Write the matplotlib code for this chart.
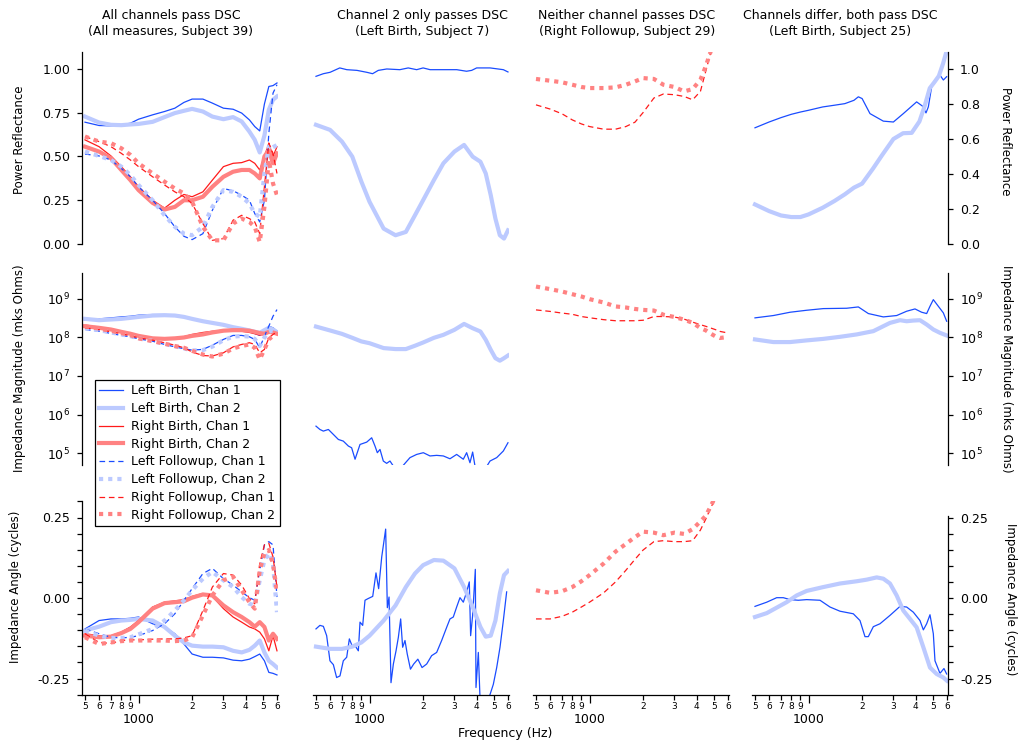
import matplotlib.pyplot as plt
from matplotlib.ticker import (FixedLocator, FixedFormatter, FormatStrFormatter,
                               LogFormatterSciNotation, MultipleLocator, NullLocator)

plt.rcParams['font.family'] = ['DejaVu Sans']
plt.rcParams['axes.unicode_minus'] = False

W, H = 1019, 747

# common frequency grid (Hz)
freq = [500, 600, 700, 800, 900, 1000, 1200, 1400, 1600, 1800, 2000, 2300,
        2600, 3000, 3400, 3800, 4200, 4500, 4800, 5100, 5400, 5700, 6000]

# ---------- column 1: subject 39, all measures ----------
s39_refl_lb1 = [0.696, 0.677, 0.675, 0.681, 0.690, 0.713, 0.738, 0.757, 0.776, 0.809, 0.828, 0.828,
                0.805, 0.776, 0.770, 0.748, 0.709, 0.671, 0.646, 0.800, 0.900, 0.905, 0.920]
s39_refl_lb2 = [0.728, 0.694, 0.681, 0.679, 0.683, 0.686, 0.698, 0.725, 0.748, 0.761, 0.772, 0.757,
                0.728, 0.713, 0.725, 0.700, 0.642, 0.595, 0.523, 0.620, 0.767, 0.824, 0.843]
s39_refl_rb1 = [0.595, 0.556, 0.503, 0.442, 0.384, 0.327, 0.250, 0.205, 0.250, 0.283, 0.270, 0.298,
                0.365, 0.442, 0.461, 0.465, 0.480, 0.461, 0.423, 0.500, 0.576, 0.500, 0.556]
s39_refl_rb2 = [0.556, 0.528, 0.490, 0.423, 0.365, 0.308, 0.235, 0.197, 0.212, 0.250, 0.250, 0.270,
                0.327, 0.384, 0.413, 0.423, 0.423, 0.403, 0.375, 0.500, 0.537, 0.461, 0.518]
s39_refl_lf1 = [0.514, 0.503, 0.480, 0.432, 0.384, 0.327, 0.250, 0.174, 0.098, 0.044, 0.025, 0.059,
                0.193, 0.317, 0.304, 0.279, 0.250, 0.174, 0.126, 0.250, 0.633, 0.862, 0.910]
s39_refl_lf2 = [0.528, 0.503, 0.480, 0.442, 0.394, 0.337, 0.250, 0.164, 0.098, 0.059, 0.050, 0.098,
                0.212, 0.308, 0.298, 0.270, 0.231, 0.174, 0.155, 0.403, 0.556, 0.576, 0.537]
s39_refl_rf1 = [0.614, 0.585, 0.556, 0.518, 0.480, 0.442, 0.384, 0.337, 0.298, 0.270, 0.231, 0.117,
                0.021, 0.031, 0.136, 0.164, 0.145, 0.126, 0.059, 0.327, 0.576, 0.518, 0.403]
s39_refl_rf2 = [0.614, 0.585, 0.576, 0.547, 0.509, 0.461, 0.403, 0.356, 0.317, 0.289, 0.241, 0.098,
                0.021, 0.021, 0.117, 0.145, 0.126, 0.098, 0.011, 0.212, 0.480, 0.346, 0.279]

s39_mag_lb1 = [2.81e8, 3.04e8, 3.23e8, 3.42e8, 3.56e8, 3.79e8, 3.94e8, 3.94e8, 3.87e8, 3.56e8, 3.13e8, 2.64e8,
               2.30e8, 2.05e8, 1.78e8, 1.61e8, 1.46e8, 1.27e8, 1.13e8, 1.46e8, 1.96e8, 1.78e8, 1.46e8]
s39_mag_lb2 = [3.04e8, 2.81e8, 2.93e8, 3.04e8, 3.23e8, 3.42e8, 3.71e8, 3.79e8, 3.71e8, 3.42e8, 3.04e8, 2.64e8,
               2.39e8, 2.13e8, 1.85e8, 1.68e8, 1.52e8, 1.40e8, 1.32e8, 1.55e8, 1.78e8, 1.61e8, 1.37e8]
s39_mag_rb1 = [1.96e8, 1.80e8, 1.60e8, 1.40e8, 1.25e8, 1.10e8, 9.5e7, 9.0e7, 9.5e7, 1.05e8, 1.20e8, 1.35e8,
               1.45e8, 1.55e8, 1.50e8, 1.45e8, 1.35e8, 1.25e8, 1.15e8, 1.20e8, 1.35e8, 1.30e8, 1.20e8]
s39_mag_rb2 = [1.96e8, 1.78e8, 1.61e8, 1.40e8, 1.25e8, 1.10e8, 9.5e7, 9.2e7, 9.5e7, 1.00e8, 1.10e8, 1.20e8,
               1.35e8, 1.50e8, 1.55e8, 1.55e8, 1.50e8, 1.40e8, 1.30e8, 1.25e8, 1.40e8, 1.35e8, 1.25e8]
s39_mag_lf1 = [1.61e8, 1.46e8, 1.27e8, 1.13e8, 1.04e8, 9.2e7, 8.0e7, 6.6e7, 5.7e7, 5.1e7, 4.7e7, 4.9e7,
               6.3e7, 8.9e7, 1.13e8, 1.13e8, 1.04e8, 8.9e7, 5.4e7, 1.08e8, 1.96e8, 3.56e8, 5.3e8]
s39_mag_lf2 = [1.78e8, 1.55e8, 1.35e8, 1.20e8, 1.08e8, 9.5e7, 8.2e7, 6.8e7, 5.9e7, 5.2e7, 4.6e7, 4.7e7,
               5.8e7, 8.5e7, 1.05e8, 1.10e8, 1.05e8, 9.2e7, 6.0e7, 1.00e8, 1.40e8, 1.55e8, 1.45e8]
s39_mag_rf1 = [1.78e8, 1.60e8, 1.40e8, 1.25e8, 1.10e8, 9.8e7, 8.5e7, 7.3e7, 6.3e7, 5.4e7, 4.2e7, 3.4e7,
               3.3e7, 4.0e7, 5.7e7, 6.6e7, 7.3e7, 6.6e7, 4.0e7, 4.9e7, 9.8e7, 1.20e8, 1.40e8]
s39_mag_rf2 = [1.96e8, 1.70e8, 1.50e8, 1.30e8, 1.15e8, 9.5e7, 8.0e7, 6.9e7, 6.0e7, 5.4e7, 4.5e7, 3.6e7,
               3.2e7, 3.8e7, 5.2e7, 6.0e7, 6.6e7, 5.4e7, 2.7e7, 4.9e7, 8.9e7, 1.10e8, 1.30e8]

s39_ang_lb1 = [-0.096, -0.070, -0.065, -0.065, -0.063, -0.059, -0.080, -0.090, -0.111, -0.143, -0.174, -0.184,
               -0.184, -0.186, -0.193, -0.195, -0.190, -0.182, -0.174, -0.195, -0.231, -0.234, -0.239]
s39_ang_lb2 = [-0.101, -0.089, -0.075, -0.070, -0.068, -0.065, -0.070, -0.090, -0.117, -0.138, -0.148, -0.151,
               -0.151, -0.153, -0.164, -0.169, -0.161, -0.148, -0.132, -0.169, -0.195, -0.205, -0.216]
s39_ang_rb1 = [-0.111, -0.117, -0.117, -0.106, -0.090, -0.070, -0.028, -0.013, -0.009, -0.005, 0.005, 0.014,
               0.005, -0.033, -0.059, -0.075, -0.090, -0.096, -0.106, -0.127, -0.164, -0.117, -0.164]
s39_ang_rb2 = [-0.117, -0.122, -0.120, -0.109, -0.096, -0.075, -0.033, -0.016, -0.013, -0.010, 0.001, 0.011,
               0.008, -0.023, -0.044, -0.059, -0.075, -0.089, -0.075, -0.090, -0.132, -0.111, -0.127]
s39_ang_lf1 = [-0.096, -0.111, -0.122, -0.124, -0.122, -0.117, -0.101, -0.080, -0.049, -0.007, 0.029, 0.076,
               0.092, 0.060, 0.040, 0.019, 0.001, -0.007, 0.086, 0.165, 0.175, 0.165, 0.003]
s39_ang_lf2 = [-0.101, -0.117, -0.124, -0.124, -0.122, -0.113, -0.096, -0.070, -0.039, -0.007, 0.024, 0.060,
               0.081, 0.055, 0.034, 0.003, -0.018, -0.023, 0.055, 0.118, 0.139, 0.107, -0.044]
s39_ang_rf1 = [-0.111, -0.138, -0.141, -0.132, -0.130, -0.130, -0.128, -0.127, -0.127, -0.124, -0.117, -0.039,
               0.034, 0.076, 0.071, 0.040, -0.002, -0.018, 0.107, 0.165, 0.170, 0.128, 0.034]
s39_ang_rf2 = [-0.122, -0.143, -0.138, -0.134, -0.132, -0.132, -0.132, -0.132, -0.134, -0.132, -0.122, -0.054,
               0.008, 0.055, 0.066, 0.024, -0.013, -0.033, 0.086, 0.139, 0.149, 0.107, 0.019]

# ---------- column 2: subject 7, left birth ----------
s7_refl_f1 = [500, 550, 600, 680, 745, 850, 965, 1040, 1120, 1250, 1480, 1650, 1840, 2000, 2190,
              3090, 3510, 3750, 4000, 4760, 5650, 6000]
s7_refl_lb1 = [0.958, 0.973, 0.981, 1.006, 0.996, 0.992, 0.981, 0.973, 0.992, 1.000, 0.996, 1.006,
               0.996, 1.006, 0.996, 0.996, 0.987, 0.992, 1.006, 1.006, 0.996, 0.983]
s7_refl_lb2 = [0.681, 0.652, 0.585, 0.499, 0.356, 0.241, 0.088, 0.050, 0.069, 0.164, 0.250, 0.365,
               0.461, 0.528, 0.566, 0.499, 0.470, 0.403, 0.279, 0.145, 0.050, 0.031, 0.078]

s7_mag_f1 = [500, 526, 550, 587, 626, 668, 712, 760, 793, 829, 884, 964, 1028, 1073, 1106, 1145, 1195,
             1248, 1303, 1360, 1483, 1582, 1688, 1840, 2006, 2187, 2384, 2599, 2832, 3088, 3366, 3514,
             3669, 3798, 3915, 4177, 4457, 4755, 5185, 5650, 6000]
s7_mag_lb1 = [4.99e5, 4.09e5, 3.71e5, 4.09e5, 3.04e5, 2.25e5, 2.04e5, 1.52e5, 1.37e5, 6.9e4, 1.67e5,
              1.92e5, 2.49e5, 1.52e5, 1.02e5, 1.24e5, 6.2e4, 5.4e4, 6.2e4, 4.6e4, 3.8e4, 5.4e4, 7.6e4,
              9.2e4, 1.02e5, 8.4e4, 8.7e4, 8.4e4, 7.1e4, 9.2e4, 6.9e4, 1.02e5, 5.6e4, 1.06e5, 4.6e4,
              3.1e4, 3.8e4, 6.2e4, 7.6e4, 1.13e5, 1.85e5]
s7_mag_lb2 = [1.92e8, 1.52e8, 1.24e8, 9.8e7, 7.9e7, 7.1e7, 5.3e7, 5.0e7, 5.0e7, 6.1e7, 7.4e7, 9.8e7,
              1.17e8, 1.58e8, 2.25e8, 1.74e8, 1.43e8, 8.7e7, 4.8e7, 2.9e7, 2.5e7, 2.9e7, 3.4e7]

s7_ang_f1 = [500, 526, 550, 574, 599, 626, 653, 682, 712, 744, 770, 804, 829, 865, 884, 915, 943, 980,
             1042, 1087, 1125, 1171, 1232, 1259, 1287, 1320, 1361, 1409, 1452, 1496, 1535, 1582, 1629,
             1698, 1771, 1869, 1973, 2095, 2234, 2384, 2543, 2714, 2832, 2957, 3088, 3224, 3366, 3514,
             3637, 3700, 3798, 3932, 3966, 4088, 4177, 4360, 4755, 4964, 5185, 5412, 5650, 5898]
s7_ang_lb1 = [-0.096, -0.085, -0.088, -0.117, -0.195, -0.207, -0.247, -0.242, -0.195, -0.184, -0.127,
              -0.153, -0.148, -0.164, -0.075, -0.085, -0.007, -0.002, 0.005, 0.078, 0.029, 0.128, 0.214,
              -0.030, 0.003, -0.263, -0.205, -0.164, -0.122, -0.065, -0.153, -0.132, -0.174, -0.221,
              -0.205, -0.190, -0.216, -0.205, -0.179, -0.169, -0.132, -0.091, -0.065, -0.059, -0.028,
              0.001, -0.013, 0.019, 0.050, -0.117, -0.054, 0.089, -0.278, -0.169, -0.310, -0.360,
              -0.300, -0.268, -0.216, -0.153, -0.070, 0.019]
s7_ang_lb2 = [-0.151, -0.158, -0.158, -0.151, -0.138, -0.117, -0.070, -0.023, 0.034, 0.076, 0.102, 0.118,
              0.116, 0.092, 0.034, -0.028, -0.090, -0.120, -0.117, -0.070, 0.014, 0.071, 0.084]

# ---------- column 3: subject 29, right followup ----------
s29_f = [500, 600, 700, 800, 900, 1000, 1200, 1400, 1600, 1800, 2000, 2300, 2600, 3000, 3400,
         3800, 4200, 4500, 4800, 5100, 5400]
s29_refl_rf1 = [0.795, 0.771, 0.744, 0.709, 0.686, 0.671, 0.656, 0.656, 0.671, 0.696, 0.751, 0.834,
                0.857, 0.853, 0.843, 0.824, 0.872, 0.987, 1.096, 1.200, 1.300]
s29_refl_rf2 = [0.943, 0.933, 0.924, 0.910, 0.897, 0.891, 0.891, 0.895, 0.910, 0.929, 0.948, 0.943,
                0.910, 0.897, 0.872, 0.885, 0.939, 1.015, 1.101, 1.200, 1.300]
s29_mag_rf1 = [5.2e8, 4.75e8, 4.3e8, 4.0e8, 3.5e8, 3.25e8, 2.9e8, 2.72e8, 2.72e8, 2.72e8, 2.8e8, 3.5e8,
               3.5e8, 3.4e8, 3.0e8, 2.5e8, 2.15e8, 1.95e8, 1.76e8, 1.6e8, 1.44e8, 1.37e8, 1.31e8]
s29_mag_rf2 = [2.10e9, 1.80e9, 1.56e9, 1.33e9, 1.16e9, 9.9e8, 8.1e8, 6.4e8, 6.0e8, 5.5e8, 5.2e8, 5.0e8,
               3.9e8, 3.4e8, 2.9e8, 2.4e8, 1.76e8, 1.53e8, 1.26e8, 1.07e8, 9.7e7, 1.0e8, 1.05e8]
s29_ang_rf1 = [-0.065, -0.065, -0.057, -0.044, -0.028, -0.013, 0.016, 0.050, 0.086, 0.120, 0.149, 0.175,
               0.178, 0.175, 0.175, 0.178, 0.211, 0.245, 0.280, 0.310, 0.350]
s29_ang_rf2 = [0.024, 0.016, 0.021, 0.034, 0.052, 0.071, 0.107, 0.144, 0.168, 0.189, 0.206, 0.203,
               0.195, 0.203, 0.199, 0.214, 0.238, 0.255, 0.285, 0.315, 0.350]

# ---------- column 4: subject 25, left birth ----------
s25_refl_f1 = [500, 600, 700, 800, 900, 1000, 1200, 1400, 1600, 1800, 1905, 2000, 2215, 2632, 2998,
               3410, 4051, 4380, 4573, 4713, 4920, 5480, 5725, 5975]
s25_refl_lb1 = [0.664, 0.697, 0.722, 0.741, 0.754, 0.764, 0.783, 0.793, 0.802, 0.821, 0.841, 0.831,
                0.745, 0.702, 0.697, 0.745, 0.812, 0.787, 0.749, 0.783, 0.898, 0.965, 0.937, 0.956]
s25_refl_lb2 = [0.226, 0.188, 0.163, 0.154, 0.154, 0.169, 0.207, 0.246, 0.284, 0.322, 0.345, 0.430,
                0.510, 0.600, 0.633, 0.635, 0.700, 0.790, 0.890, 0.925, 0.960, 1.030, 1.110]

s25_mag_f1 = [500, 634, 787, 976, 1211, 1638, 1905, 2168, 2632, 3128, 3560, 3966, 4324, 4613, 4816,
              5028, 5364, 5725, 5975]
s25_mag_lb1 = [3.23e8, 3.71e8, 4.52e8, 5.09e8, 5.62e8, 5.74e8, 6.21e8, 4.18e8, 3.42e8, 3.71e8, 4.80e8,
               5.51e8, 4.52e8, 4.18e8, 6.46e8, 9.6e8, 6.46e8, 4.35e8, 2.64e8]
s25_mag_f2 = [500, 634, 787, 976, 1211, 1502, 1864, 2313, 2869, 3267, 3560, 3881, 4231, 4613, 5028,
              5480, 5975]
s25_mag_lb2 = [8.9e7, 7.6e7, 7.6e7, 8.4e7, 9.2e7, 1.04e8, 1.20e8, 1.46e8, 2.39e8, 2.81e8, 2.64e8,
               2.75e8, 2.81e8, 2.17e8, 1.61e8, 1.32e8, 1.13e8]

s25_ang_f1 = [500, 582, 662, 721, 787, 876, 976, 1160, 1320, 1502, 1785, 1946, 2076, 2168, 2313, 2521,
              2869, 3267, 3560, 3881, 4231, 4419, 4613, 4816, 5028, 5137, 5480, 5770, 5975]
s25_ang_lb1 = [-0.026, -0.013, 0.001, 0.001, -0.005, -0.007, -0.005, -0.007, -0.028, -0.041, -0.049,
               -0.070, -0.120, -0.120, -0.089, -0.080, -0.054, -0.026, -0.028, -0.044, -0.070, -0.099,
               -0.080, -0.052, -0.111, -0.195, -0.234, -0.219, -0.236]
s25_ang_f2 = [500, 582, 662, 753, 858, 976, 1211, 1502, 1864, 2122, 2415, 2632, 2869, 3128, 3410, 3718,
              4051, 4419, 4816, 5249, 5725, 6000]
s25_ang_lb2 = [-0.059, -0.047, -0.030, -0.013, 0.008, 0.022, 0.034, 0.045, 0.052, 0.057, 0.064, 0.060,
               0.045, 0.008, -0.039, -0.065, -0.091, -0.153, -0.216, -0.236, -0.247, -0.257]

# ---------- labels and text ----------
series_labels = ['Left Birth, Chan 1', 'Left Birth, Chan 2', 'Right Birth, Chan 1', 'Right Birth, Chan 2',
                 'Left Followup, Chan 1', 'Left Followup, Chan 2', 'Right Followup, Chan 1',
                 'Right Followup, Chan 2']
col_titles = [('All channels pass DSC', '(All measures, Subject 39)'),
              ('Channel 2 only passes DSC', '(Left Birth, Subject 7)'),
              ('Neither channel passes DSC', '(Right Followup, Subject 29)'),
              ('Channels differ, both pass DSC', '(Left Birth, Subject 25)')]
row_labels = ['Power Reflectance', 'Impedance Magnitude (mks Ohms)', 'Impedance Angle (cycles)']
minor_freqs = [500, 600, 700, 800, 900, 2000, 3000, 4000, 5000, 6000]
minor_labels = ['5', '6', '7', '8', '9', '2', '3', '4', '5', '6']

BLUE, LBLUE, RED, LRED = '#1a4cff', '#bccaff', '#ff1a1a', '#ff8282'
thin, thick = 0.9, 3.0
style = {
    'lb1': dict(color=BLUE, lw=thin, ls='-'),
    'lb2': dict(color=LBLUE, lw=thick, ls='-'),
    'rb1': dict(color=RED, lw=thin, ls='-'),
    'rb2': dict(color=LRED, lw=thick, ls='-'),
    'lf1': dict(color=BLUE, lw=thin, ls=(0, (4.5, 3))),
    'lf2': dict(color=LBLUE, lw=thick, ls=(0, (1, 1.2))),
    'rf1': dict(color=RED, lw=thin, ls=(0, (4.5, 3))),
    'rf2': dict(color=LRED, lw=thick, ls=(0, (1, 1.2))),
}
keys = ['lb1', 'lb2', 'rb1', 'rb2', 'lf1', 'lf2', 'rf1', 'rf2']

fig = plt.figure(figsize=(W / 100, H / 100), dpi=100)

col_x0 = [85, 316, 536, 755]          # pixel x of 500 Hz
row_px = [(52, 244), (273, 465), (501.4, 694.6)]
ylims = [(0, 1.097), (4.89e4, 4.72e9), (-0.3, 0.3)]

axes = [[None] * 4 for _ in range(3)]
for r in range(3):
    for c in range(4):
        top, bot = row_px[r]
        lo, hi = ylims[r]
        if r == 2 and c == 3:
            # right-hand angle axis stops at its top tick
            top, hi = 515.9, 0.255
        ax = fig.add_axes([(col_x0[c] - 3) / W, 1 - bot / H, 196 / W, (bot - top) / H])
        ax.set_facecolor('none')
        ax.set_xscale('log')
        ax.set_xlim(481, 6080)
        if r == 1:
            ax.set_yscale('log')
        ax.set_ylim(lo, hi)
        for s in ax.spines.values():
            s.set_visible(False)
            s.set_linewidth(0.9)
        axes[r][c] = ax

        # x axis only on the bottom row
        if r == 2:
            ax.spines['bottom'].set_visible(True)
            ax.xaxis.set_major_locator(FixedLocator([1000]))
            ax.xaxis.set_major_formatter(FixedFormatter(['1000']))
            ax.xaxis.set_minor_locator(FixedLocator(minor_freqs))
            ax.xaxis.set_minor_formatter(FixedFormatter(minor_labels))
            ax.tick_params(axis='x', which='major', length=6, width=0.9, pad=7, labelsize=9)
            ax.tick_params(axis='x', which='minor', length=3.6, width=0.9, pad=1.5, labelsize=6.5)
        else:
            ax.xaxis.set_visible(False)

        # y axis on the outer columns
        if c in (1, 2):
            ax.yaxis.set_visible(False)
            continue
        side = 'left' if c == 0 else 'right'
        ax.spines[side].set_visible(True)
        if side == 'right':
            ax.yaxis.tick_right()
        if r == 0:
            if c == 0:
                ax.yaxis.set_major_locator(FixedLocator([0, 0.25, 0.5, 0.75, 1.0]))
                ax.yaxis.set_major_formatter(FormatStrFormatter('%.2f'))
            else:
                ax.yaxis.set_major_locator(FixedLocator([0, 0.2, 0.4, 0.6, 0.8, 1.0]))
                ax.yaxis.set_major_formatter(FormatStrFormatter('%.1f'))
        elif r == 1:
            ax.yaxis.set_major_locator(FixedLocator([1e5, 1e6, 1e7, 1e8, 1e9]))
            ax.yaxis.set_major_formatter(LogFormatterSciNotation())
            ax.yaxis.set_minor_locator(NullLocator())
        else:
            ax.yaxis.set_major_locator(FixedLocator([-0.25, 0, 0.25]))
            ax.yaxis.set_major_formatter(FormatStrFormatter('%.2f'))
            ax.yaxis.set_minor_locator(MultipleLocator(0.05))
        ax.tick_params(axis='y', which='both', length=3.6, width=0.9, pad=5, labelsize=9)

# column 1: all eight measures
col1 = [
    [s39_refl_lb1, s39_refl_lb2, s39_refl_rb1, s39_refl_rb2, s39_refl_lf1, s39_refl_lf2, s39_refl_rf1, s39_refl_rf2],
    [s39_mag_lb1, s39_mag_lb2, s39_mag_rb1, s39_mag_rb2, s39_mag_lf1, s39_mag_lf2, s39_mag_rf1, s39_mag_rf2],
    [s39_ang_lb1, s39_ang_lb2, s39_ang_rb1, s39_ang_rb2, s39_ang_lf1, s39_ang_lf2, s39_ang_rf1, s39_ang_rf2],
]
handles = []
for r in range(3):
    for k, ys, lab in zip(keys, col1[r], series_labels):
        ln, = axes[r][0].plot(freq, ys, label=lab, **style[k])
        if r == 0:
            handles.append(ln)

# column 2
axes[0][1].plot(s7_refl_f1, s7_refl_lb1, **style['lb1'])
axes[0][1].plot(freq, s7_refl_lb2, **style['lb2'])
axes[1][1].plot(s7_mag_f1, s7_mag_lb1, **style['lb1'])
axes[1][1].plot(freq, s7_mag_lb2, **style['lb2'])
axes[2][1].plot(s7_ang_f1, s7_ang_lb1, **style['lb1'])
axes[2][1].plot(freq, s7_ang_lb2, **style['lb2'])

# column 3
axes[0][2].plot(s29_f, s29_refl_rf1, **style['rf1'])
axes[0][2].plot(s29_f, s29_refl_rf2, **style['rf2'])
axes[1][2].plot(freq, s29_mag_rf1, **style['rf1'])
axes[1][2].plot(freq, s29_mag_rf2, **style['rf2'])
axes[2][2].plot(s29_f, s29_ang_rf1, **style['rf1'])
axes[2][2].plot(s29_f, s29_ang_rf2, **style['rf2'])

# column 4
axes[0][3].plot(s25_refl_f1, s25_refl_lb1, **style['lb1'])
axes[0][3].plot(freq, s25_refl_lb2, **style['lb2'])
axes[1][3].plot(s25_mag_f1, s25_mag_lb1, **style['lb1'])
axes[1][3].plot(s25_mag_f2, s25_mag_lb2, **style['lb2'])
axes[2][3].plot(s25_ang_f1, s25_ang_lb1, **style['lb1'])
axes[2][3].plot(s25_ang_f2, s25_ang_lb2, **style['lb2'])

# column titles
title_x = [171, 422, 627, 840]
for x, (l1, l2) in zip(title_x, col_titles):
    fig.text(x / W, 1 - 15 / H, l1, ha='center', va='center', fontsize=9)
    fig.text(x / W, 1 - 32 / H, l2, ha='center', va='center', fontsize=9)

# row labels, both sides
left_pos = [(20, 140), (20, 368), (16, 587)]
right_pos = [(1005, 141), (1006, 369), (1010, 599)]
for lab, (lx, ly), (rx, ry) in zip(row_labels, left_pos, right_pos):
    fig.text(lx / W, 1 - ly / H, lab, rotation=90, ha='center', va='center', fontsize=8.5)
    fig.text(rx / W, 1 - ry / H, lab, rotation=-90, ha='center', va='center', fontsize=8.5)

fig.text(505 / W, 1 - 733 / H, 'Frequency (Hz)', ha='center', va='center', fontsize=9)

leg = fig.legend(handles, series_labels, loc='upper left', bbox_to_anchor=(95 / W, 1 - 380 / H),
                 frameon=True, fancybox=False, edgecolor='black', framealpha=1, fontsize=9,
                 handlelength=1.9, handletextpad=0.65, labelspacing=0.38, borderpad=0.35,
                 borderaxespad=0)
leg.get_frame().set_linewidth(0.9)

fig.savefig('out.png', dpi=100)
